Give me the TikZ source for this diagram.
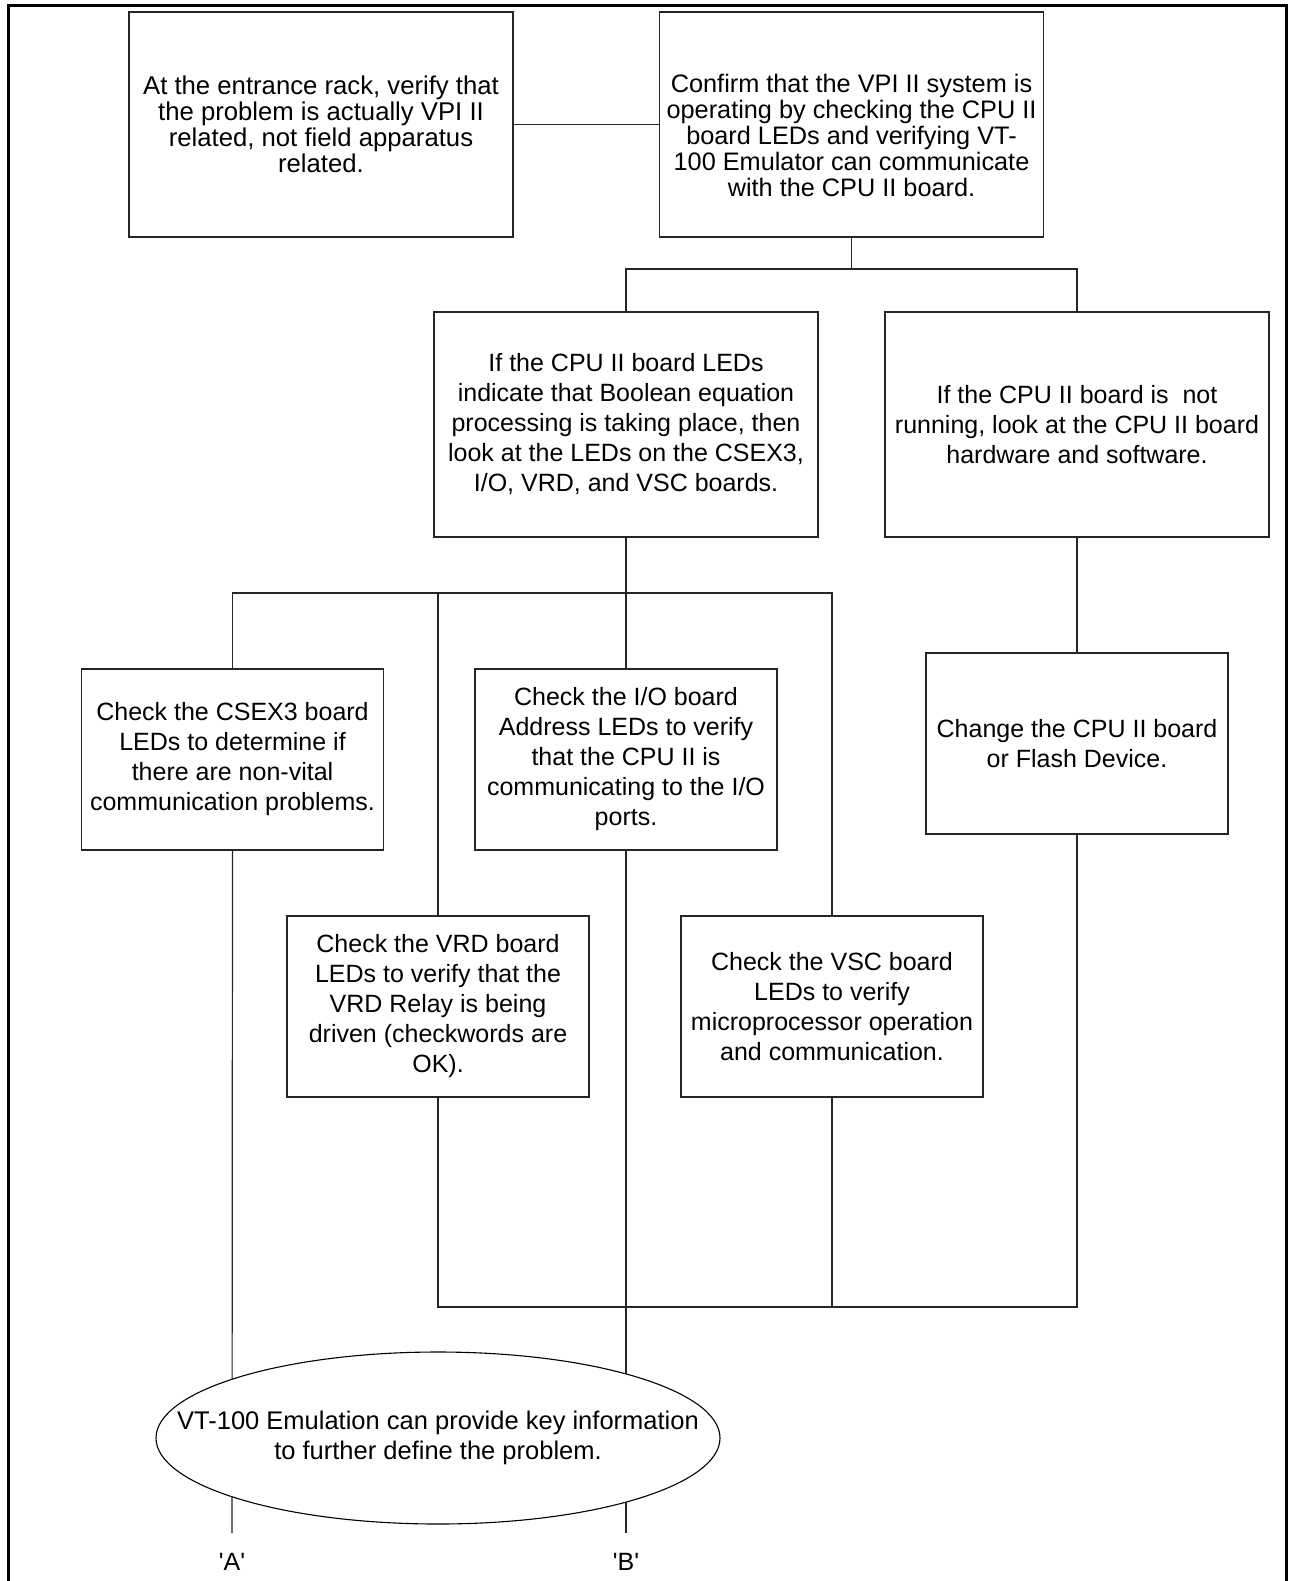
\documentclass[tikz,border=0pt]{standalone}
\usepackage{fontspec}
\setmainfont{Liberation Sans}
\usetikzlibrary{shapes.geometric}
\begin{document}
\begin{tikzpicture}[x=1pt,y=-1pt,
  line/.style={line width=1.2pt, draw=black!85},
  box/.style={draw=black!85, line width=1.2pt, rectangle, align=center, inner sep=0pt,
    font=\fontsize{25}{30}\selectfont},
  topbox/.style={box, font=\fontsize{25.7}{26}\selectfont, minimum width=384pt, minimum height=225pt},
  midbox/.style={box, minimum width=384pt, minimum height=225pt},
  smallbox/.style={box, minimum width=302pt, minimum height=181pt},
  txt/.style={inner sep=0pt, align=center},
  lbl/.style={inner sep=0pt, font=\fontsize{25}{30}\selectfont}]
\useasboundingbox (0,0) rectangle (1288,1581);
\draw[line width=3pt] (8,1600) -- (8,6) -- (1286,6) -- (1286,1600);

\node[topbox] (b1) at (321,124.5) {At the entrance rack, verify that\\the problem is actually VPI II\\related, not field apparatus\\related.};
\node[topbox] (b2) at (851.5,124.5) {};
\node[txt, font=\fontsize{25.3}{26}\selectfont] (b2t) at ([yshift=-11pt]b2.center) {Confirm that the VPI II system is\\operating by checking the CPU II\\board LEDs and verifying VT-\\100 Emulator can communicate\\with the CPU II board.};
\node[midbox] (b3) at (626,424.5) {If the CPU II board LEDs\\indicate that Boolean equation\\processing is taking place, then\\look at the LEDs on the CSEX3,\\I/O, VRD, and VSC boards.};
\node[midbox] (b4) at (1077,424.5) {If the CPU II board is~ not\\running, look at the CPU II board\\hardware and software.};
\node[smallbox] (b5) at (232.5,759.5) {Check the CSEX3 board\\LEDs to determine if\\there are non-vital\\communication problems.};
\node[smallbox] (b6) at (626,759.5) {Check the I/O board\\Address LEDs to verify\\that the CPU II is\\communicating to the I/O\\ports.};
\node[smallbox] (b7) at (1077,743.5) {Change the CPU II board\\or Flash Device.};
\node[smallbox] (b8) at (438,1006.5) {Check the VRD board\\LEDs to verify that the\\VRD Relay is being\\driven (checkwords are\\OK).};
\node[smallbox] (b9) at (832,1006.5) {Check the VSC board\\LEDs to verify\\microprocessor operation\\and communication.};

\node[lbl] (la) at (232,1562) {\textquotesingle A\textquotesingle};
\node[lbl] (lb) at (626,1562) {\textquotesingle B\textquotesingle};

\coordinate (j1) at (851.5,269);
\coordinate (j2) at (626,593);
\coordinate (j3) at (626,1307);
\coordinate (ea) at (232,1533);
\coordinate (eb) at (626,1533);

\draw[line] (b1.east) -- (b2.west);
\draw[line] (b2.south) -- (j1);
\draw[line] (b3.north) |- (j1) -| (b4.north);
\draw[line] (b3.south) -- (b6.north);
\draw[line] (b5.north) |- (j2) -| (b9.north);
\draw[line] (b8.north) -- (b8.north |- j2);
\draw[line] (b4.south) -- (b7.north);
\draw[line] (b8.south) |- (j3) -| (b7.south);
\draw[line] (b9.south) -- (b9.south |- j3);
\draw[line] (b5.south) -- (ea);
\draw[line] (b6.south) -- (eb);

\node[ellipse, draw=black, line width=1.1pt, fill=white, minimum width=564pt, minimum height=172pt,
  inner sep=0pt] (e) at (438,1438) {};
\node[txt, font=\fontsize{25.5}{30}\selectfont] (et) at (e.center)
  {VT-100 Emulation can provide key information\\to further define the problem.};
\end{tikzpicture}
\end{document}
